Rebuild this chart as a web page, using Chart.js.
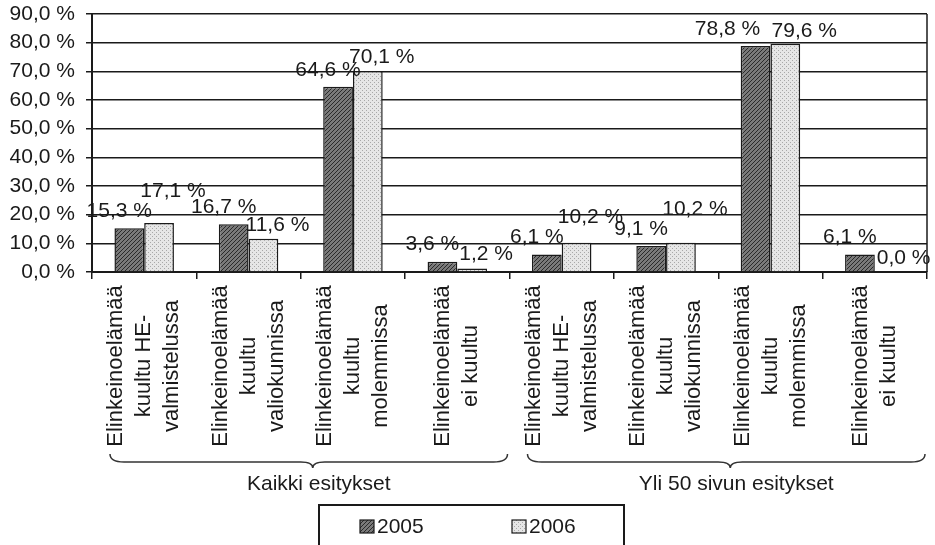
<!DOCTYPE html>
<html lang="fi">
<head>
<meta charset="UTF-8">
<title>Elinkeinoelämän kuuleminen 2005-2006</title>
<script src="https://cdn.jsdelivr.net/npm/chart.js@4.4.1/dist/chart.umd.min.js"></script>
<style>
  html, body { margin: 0; padding: 0; background: #fff; }
</style>
</head>
<body>
<canvas id="chart" width="935" height="545"></canvas>
<script>
// categories (multi-line labels) and the two groups they belong to
const categories = [
  ['Elinkeinoelämää', 'kuultu HE-', 'valmistelussa'],
  ['Elinkeinoelämää', 'kuultu', 'valiokunnissa'],
  ['Elinkeinoelämää', 'kuultu', 'molemmissa'],
  ['Elinkeinoelämää', 'ei kuultu'],
  ['Elinkeinoelämää', 'kuultu HE-', 'valmistelussa'],
  ['Elinkeinoelämää', 'kuultu', 'valiokunnissa'],
  ['Elinkeinoelämää', 'kuultu', 'molemmissa'],
  ['Elinkeinoelämää', 'ei kuultu']
];
const groups = ['Kaikki esitykset', 'Yli 50 sivun esitykset'];
const seriesNames = ['2005', '2006'];
const values2005 = [15.3, 16.7, 64.6, 3.6, 6.1, 9.1, 78.8, 6.1];
const values2006 = [17.1, 11.6, 70.1, 1.2, 10.2, 10.2, 79.6, 0.0];
const yTicks = [0, 10, 20, 30, 40, 50, 60, 70, 80, 90];

const FONT = '"Liberation Sans", Arial, sans-serif';
const INK = '#1a1a1a';

function fmt(v) {
  return v.toFixed(1).replace('.', ',') + ' %';
}

// scanned-looking fills
function hatchPattern() {
  const c = document.createElement('canvas');
  c.width = 4; c.height = 4;
  const g = c.getContext('2d');
  g.fillStyle = '#7a7a7a';
  g.fillRect(0, 0, 4, 4);
  g.fillStyle = '#2a2a2a';
  for (let i = 0; i < 4; i++) g.fillRect(i, 3 - i, 1, 1);
  return g.createPattern(c, 'repeat');
}
function dotPattern() {
  const c = document.createElement('canvas');
  c.width = 4; c.height = 4;
  const g = c.getContext('2d');
  g.fillStyle = '#e6e6e6';
  g.fillRect(0, 0, 4, 4);
  g.fillStyle = '#a8a8a8';
  g.fillRect(0, 0, 1, 1);
  g.fillRect(2, 2, 1, 1);
  return g.createPattern(c, 'repeat');
}

const darkFill = hatchPattern();
const lightFill = dotPattern();

const extras = {
  id: 'extras',
  afterDraw(chart) {
    const ctx = chart.ctx;
    const area = chart.chartArea;
    const xs = chart.scales.x;
    ctx.save();

    // right border of plot area
    ctx.strokeStyle = INK;
    ctx.lineWidth = 1.5;
    ctx.beginPath();
    ctx.moveTo(area.right, area.top);
    ctx.lineTo(area.right, area.bottom);
    ctx.stroke();

    // value labels above the bars; the 2006 label steps up (or aside)
    // when it would collide with the 2005 label of the same category
    ctx.fillStyle = INK;
    ctx.font = '21px ' + FONT;
    ctx.textAlign = 'center';
    ctx.textBaseline = 'middle';
    const d0 = chart.data.datasets[0], d1 = chart.data.datasets[1];
    const m0 = chart.getDatasetMeta(0), m1 = chart.getDatasetMeta(1);
    m0.data.forEach((bar0, i) => {
      const bar1 = m1.data[i];
      const t0 = fmt(d0.data[i]), t1 = fmt(d1.data[i]);
      let x0 = bar0.x - 10, y0 = bar0.y - 17;
      let x1 = bar1.x + 14, y1 = bar1.y - 14;
      const w0 = ctx.measureText(t0).width, w1 = ctx.measureText(t1).width;
      const hOverlap = (x0 + w0 / 2) > (x1 - w1 / 2);
      if (hOverlap && Math.abs(y1 - y0) < 12) {
        if (y0 - 20 > area.top + 10) {
          y1 = y0 - 20;
        } else {
          x0 -= 18;
          x1 += 5;
          y1 = y0 + 2;
        }
      }
      ctx.fillText(t0, x0, y0);
      ctx.fillText(t1, x1, y1);
    });

    // vertical category labels
    ctx.font = '22px ' + FONT;
    categories.forEach((lines, i) => {
      const cx = xs.getPixelForValue(i);
      lines.forEach((line, j) => {
        const lx = cx + (j - (lines.length - 1) / 2) * 28;
        ctx.save();
        ctx.translate(lx, 366);
        ctx.rotate(-Math.PI / 2);
        ctx.fillText(line, 0, 0);
        ctx.restore();
      });
    });

    // group braces and labels
    const step = xs.getPixelForValue(1) - xs.getPixelForValue(0);
    ctx.strokeStyle = '#333';
    ctx.lineWidth = 1.5;
    ctx.font = '21px ' + FONT;
    groups.forEach((name, g) => {
      const left = xs.getPixelForValue(g * 4) - step / 2 + 18;
      const right = xs.getPixelForValue(g * 4 + 3) + step / 2 - 2;
      const m = (left + right) / 2 + 4;
      const top = 454, mid = 462, tip = 468;
      ctx.beginPath();
      ctx.moveTo(left, top);
      ctx.quadraticCurveTo(left, mid, left + 14, mid);
      ctx.lineTo(m - 12, mid);
      ctx.quadraticCurveTo(m, mid, m, tip);
      ctx.quadraticCurveTo(m, mid, m + 12, mid);
      ctx.lineTo(right - 14, mid);
      ctx.quadraticCurveTo(right, mid, right, top);
      ctx.stroke();
      ctx.fillText(name, m + 6, 484);
    });

    // legend box
    const boxL = 319, boxT = 505, boxW = 305;
    ctx.strokeStyle = INK;
    ctx.lineWidth = 2;
    ctx.strokeRect(boxL, boxT, boxW, 60);
    ctx.textAlign = 'left';
    const fills = [darkFill, lightFill];
    [boxL + 41, boxL + 193].forEach((x, k) => {
      ctx.fillStyle = fills[k];
      ctx.fillRect(x, 520, 14, 13);
      ctx.lineWidth = 1.2;
      ctx.strokeRect(x, 520, 14, 13);
      ctx.fillStyle = INK;
      ctx.fillText(seriesNames[k], x + 17, 527);
    });

    ctx.restore();
  }
};

new Chart(document.getElementById('chart'), {
  type: 'bar',
  data: {
    labels: categories.map(c => c.join(' ')),
    datasets: [
      {
        label: seriesNames[0],
        data: values2005,
        backgroundColor: darkFill,
        borderColor: INK,
        borderWidth: 1.5,
        categoryPercentage: 0.57,
        barPercentage: 1.0
      },
      {
        label: seriesNames[1],
        data: values2006,
        backgroundColor: lightFill,
        borderColor: INK,
        borderWidth: 1.5,
        categoryPercentage: 0.57,
        barPercentage: 1.0
      }
    ]
  },
  options: {
    responsive: false,
    animation: false,
    devicePixelRatio: 1,
    layout: { padding: { top: 14, right: 8, left: 0, bottom: 0 } },
    plugins: {
      legend: { display: false },
      tooltip: { enabled: false }
    },
    scales: {
      x: {
        offset: true,
        grid: {
          display: true,
          drawOnChartArea: false,
          drawTicks: true,
          tickLength: 7,
          color: INK,
          lineWidth: 1.5
        },
        border: { display: true, color: INK, width: 2 },
        ticks: { display: false },
        afterFit(scale) {
          scale.height = 273;
          scale.paddingLeft = 0;
          scale.paddingRight = 0;
        }
      },
      y: {
        min: 0,
        max: 90,
        afterBuildTicks(scale) {
          scale.ticks = yTicks.map(v => ({ value: v }));
        },
        ticks: {
          autoSkip: false,
          callback: v => fmt(v),
          color: INK,
          padding: 11,
          font: { family: FONT, size: 21 }
        },
        grid: { color: INK, lineWidth: 1.5, tickLength: 6 },
        border: { color: INK, width: 2 },
        afterFit(scale) {
          scale.width = 92;
          scale.paddingTop = 0;
          scale.paddingBottom = 0;
        }
      }
    }
  },
  plugins: [extras]
});
</script>
</body>
</html>
